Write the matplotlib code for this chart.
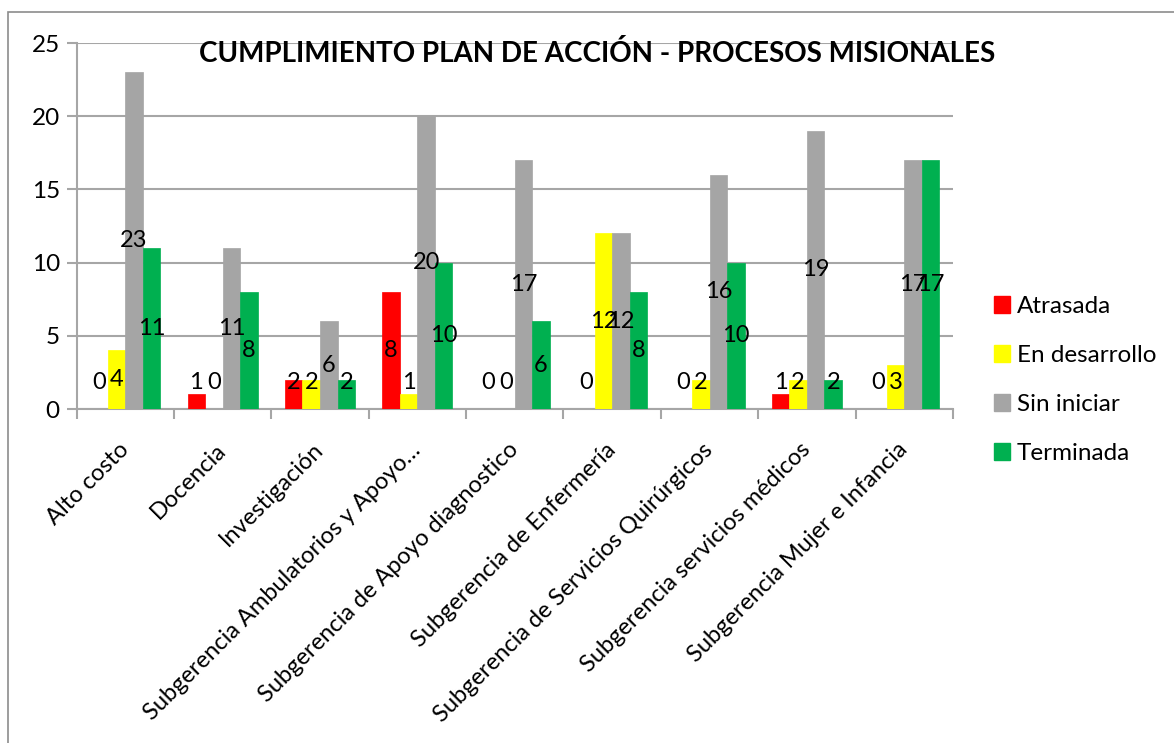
import matplotlib
matplotlib.use("Agg")
import matplotlib.pyplot as plt
from matplotlib.patches import Rectangle, Patch
import numpy as np

plt.rcParams['font.family'] = ['Lato', 'DejaVu Sans']

categories = ["Alto costo", "Docencia", "Investigación",
              "Subgerencia Ambulatorios y Apoyo…",
              "Subgerencia de Apoyo diagnostico",
              "Subgerencia de Enfermería",
              "Subgerencia de Servicios Quirúrgicos",
              "Subgerencia servicios médicos",
              "Subgerencia Mujer e Infancia"]
series_names = ["Atrasada", "En desarrollo", "Sin iniciar", "Terminada"]
atrasada = [0, 1, 2, 8, 0, 0, 0, 1, 0]
en_desarrollo = [4, 0, 2, 1, 0, 12, 2, 2, 3]
sin_iniciar = [23, 11, 6, 20, 17, 12, 16, 19, 17]
terminada = [11, 8, 2, 10, 6, 8, 10, 2, 17]
colors = ["#FF0000", "#FFFF00", "#A5A5A5", "#00B050"]
yticks = [0, 5, 10, 15, 20, 25]
title = "CUMPLIMIENTO PLAN DE ACCIÓN - PROCESOS MISIONALES"

W, H = 1174, 743
fig = plt.figure(figsize=(W / 100, H / 100), dpi=100)
ax = fig.add_axes([76.5 / W, 1 - 409 / H, (953 - 76.5) / W, (409 - 43) / H])

grid_c = "#A6A6A6"
x = np.arange(len(categories))
bw = 0.18
data = [atrasada, en_desarrollo, sin_iniciar, terminada]
for i, (vals, c) in enumerate(zip(data, colors)):
    pos = x + (i - 1.5) * bw
    ax.bar(pos, vals, width=bw, color=c, edgecolor=c, linewidth=0.5, zorder=3)
    for px, v in zip(pos, vals):
        ax.text(px, max(v / 2, 1.8), str(v), ha='center', va='center',
                fontsize=17, color='black', zorder=5)

ax.set_xlim(-0.5, len(categories) - 0.5)
ax.set_ylim(0, 25)
ax.set_yticks(yticks)
ax.set_yticklabels([str(t) for t in yticks], fontsize=17.5)
ax.yaxis.grid(True, color=grid_c, linewidth=1.5, zorder=0)
ax.set_axisbelow(True)

ax.set_xticks(x)
ax.set_xticklabels(categories, rotation=45, ha='right', va='center',
                   rotation_mode='anchor', fontsize=17)
ax.set_xticks(np.arange(-0.5, len(categories)), minor=True)
ax.tick_params(axis='x', which='major', length=0, pad=27)
ax.tick_params(axis='x', which='minor', length=7, color=grid_c, width=1.5, direction='out')
ax.tick_params(axis='y', length=7, color=grid_c, width=1.5, direction='out', pad=5)

for s in ['top', 'right']:
    ax.spines[s].set_visible(False)
for s in ['left', 'bottom']:
    ax.spines[s].set_color(grid_c)
    ax.spines[s].set_linewidth(1.5)

fig.text(597 / W, 1 - 53 / H, title, ha='center', va='center',
         fontsize=20, fontweight='bold')

handles = [Patch(facecolor=c, edgecolor=c) for c in colors]
fig.legend(handles, series_names, loc='center left',
           bbox_to_anchor=(994 / W, 1 - 380 / H), frameon=False,
           fontsize=17.5, handlelength=0.65, handleheight=0.65,
           handletextpad=0.3, labelspacing=1.15, borderpad=0, borderaxespad=0)

fig.add_artist(Rectangle((7.5 / W, -0.1), 2, 1 - 12.5 / H + 0.1,
                         transform=fig.transFigure, fill=False,
                         edgecolor='#8C8C8C', linewidth=1.2, clip_on=False))

fig.savefig("out.png", dpi=100)
